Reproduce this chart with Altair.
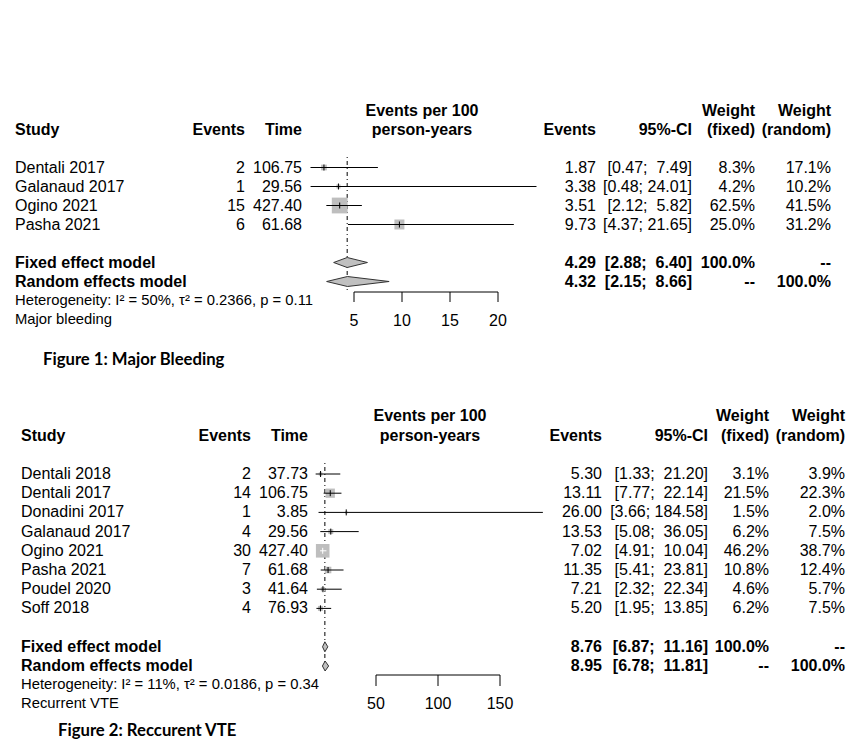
import math
import altair as alt
import pandas as pd

# ---------------- Figure 1: Major bleeding ----------------
f1_study = ["Dentali 2017", "Galanaud 2017", "Ogino 2021", "Pasha 2021"]
f1_events = [2, 1, 15, 6]
f1_time = [106.75, 29.56, 427.40, 61.68]
f1_rate = [1.87, 3.38, 3.51, 9.73]
f1_lower = [0.47, 0.48, 2.12, 4.37]
f1_upper = [7.49, 24.01, 5.82, 21.65]
f1_wfixed = [8.3, 4.2, 62.5, 25.0]
f1_wrandom = [17.1, 10.2, 41.5, 31.2]
f1_fixed = [4.29, 2.88, 6.40]
f1_random = [4.32, 2.15, 8.66]
f1_het = "Heterogeneity: I² = 50%, τ² = 0.2366, p = 0.11"
f1_label = "Major bleeding"
f1_ticks = [5, 10, 15, 20]
f1_caption = "Figure 1: Major Bleeding"

# ---------------- Figure 2: Recurrent VTE ----------------
f2_study = ["Dentali 2018", "Dentali 2017", "Donadini 2017", "Galanaud 2017",
            "Ogino 2021", "Pasha 2021", "Poudel 2020", "Soff 2018"]
f2_events = [2, 14, 1, 4, 30, 7, 3, 4]
f2_time = [37.73, 106.75, 3.85, 29.56, 427.40, 61.68, 41.64, 76.93]
f2_rate = [5.30, 13.11, 26.00, 13.53, 7.02, 11.35, 7.21, 5.20]
f2_lower = [1.33, 7.77, 3.66, 5.08, 4.91, 5.41, 2.32, 1.95]
f2_upper = [21.20, 22.14, 184.58, 36.05, 10.04, 23.81, 22.34, 13.85]
f2_wfixed = [3.1, 21.5, 1.5, 6.2, 46.2, 10.8, 4.6, 6.2]
f2_wrandom = [3.9, 22.3, 2.0, 7.5, 38.7, 12.4, 5.7, 7.5]
f2_fixed = [8.76, 6.87, 11.16]
f2_random = [8.95, 6.78, 11.81]
f2_het = "Heterogeneity: I² = 11%, τ² = 0.0186, p = 0.34"
f2_label = "Recurrent VTE"
f2_ticks = [50, 100, 150]
f2_caption = "Figure 2: Reccurent VTE"

# ---------------- layout (page pixel coordinates) ----------------
PAGE_X = 8
W = 840
FONT = "Liberation Sans"
NB = "\u00a0"

L1 = dict(top=8, height=370, base=167.5, step=19, zero=306, ppu=9.6, sq=4.0,
          study=15, ev=245, time=302, smlab=422, est=596, ci=692, wf=755, wr=831, cap=43,
          ref=(157, 290), axis=292, tickend=302, tlab=321, cap_y=360)
L2 = dict(top=378, height=366, base=474, step=19.2, zero=314, ppu=1.24, sq=6.25,
          study=21, ev=251, time=308, smlab=430, est=602, ci=708, wf=769, wr=845, cap=58,
          ref=(463, 672), axis=675, tickend=686, tlab=704, cap_y=731)


def panel(study, events, time, rate, lower, upper, wf, wr, fixed, rnd,
          het, label, ticks, caption, L):
    n = len(study)

    def r(py):
        return (py - L["base"]) / L["step"]

    def px(x):
        return x - PAGE_X

    yscale = alt.Scale(domain=[r(L["top"]), r(L["top"] + L["height"])],
                       reverse=True, nice=False, zero=False)
    xscale = alt.Scale(domain=[(PAGE_X - L["zero"]) / L["ppu"],
                               (PAGE_X + W - L["zero"]) / L["ppu"]],
                       nice=False, zero=False)
    Y = alt.Y("row:Q", scale=yscale, axis=None)

    all_lo = list(lower) + [fixed[1], rnd[1]]
    all_hi = list(upper) + [fixed[2], rnd[2]]
    wl = max(len(f"{v:.2f}") for v in all_lo)
    wu = max(len(f"{v:.2f}") for v in all_hi)

    def ci(lo, hi):
        return "[" + f"{lo:.2f}".rjust(wl, NB) + ";" + NB + f"{hi:.2f}".rjust(wu, NB) + "]"

    sdf = pd.DataFrame(dict(
        row=list(range(n)), study=study,
        events=[str(e) for e in events], time=[f"{t:.2f}" for t in time],
        est=rate, lo=lower, hi=upper, wf=wf,
        est_s=[f"{v:.2f}" for v in rate],
        ci_s=[ci(a, b) for a, b in zip(lower, upper)],
        wf_s=[f"{v:.1f}%" for v in wf], wr_s=[f"{v:.1f}%" for v in wr],
    ))
    sdf["lc"] = ["white" if (b - a) * L["ppu"] < math.sqrt(L["sq"] * w) else "black"
                 for a, b, w in zip(lower, upper, wf)]

    mdf = pd.DataFrame(dict(
        row=[n + 1, n + 2], label=["Fixed effect model", "Random effects model"],
        est_s=[f"{fixed[0]:.2f}", f"{rnd[0]:.2f}"],
        ci_s=[ci(fixed[1], fixed[2]), ci(rnd[1], rnd[2])],
        wf_s=["100.0%", "--"], wr_s=["--", "100.0%"],
    ))

    h = 5.0 / L["step"]
    drows = []
    for name, (e, lo, hi), rr in [("fixed", fixed, n + 1), ("random", rnd, n + 2)]:
        drows += [dict(model=name, x=lo, y1=rr, y2=rr),
                  dict(model=name, x=e, y1=rr - h, y2=rr + h),
                  dict(model=name, x=hi, y1=rr, y2=rr)]
    ddf = pd.DataFrame(drows)

    foot = pd.DataFrame(dict(row=[n + 3, n + 4], text=[het, label]))
    hdr = pd.DataFrame(dict(row=[-3, -2], a=["Events per 100", "person-years"]))

    def txt(df, field, x, align="left", bold=False, size=16, font=FONT, color="black"):
        return alt.Chart(df).mark_text(
            align=align, baseline="middle", x=px(x), font=font, fontSize=size,
            fontWeight="bold" if bold else "normal", color=color
        ).encode(y=Y, text=f"{field}:N")

    def hd(text, row, x, align):
        return txt(pd.DataFrame(dict(row=[row], t=[text])), "t", x, align, bold=True)

    layers = []
    # headers
    layers += [
        hd("Study", -2, L["study"], "left"),
        hd("Events", -2, L["ev"], "right"),
        hd("Time", -2, L["time"], "right"),
        txt(hdr, "a", L["smlab"], "center", bold=True),
        hd("Events", -2, L["est"], "right"),
        hd("95%-CI", -2, L["ci"], "right"),
        hd("Weight", -3, L["wf"], "right"),
        hd("(fixed)", -2, L["wf"], "right"),
        hd("Weight", -3, L["wr"], "right"),
        hd("(random)", -2, L["wr"], "right"),
    ]
    # study rows
    layers += [
        txt(sdf, "study", L["study"]),
        txt(sdf, "events", L["ev"], "right"),
        txt(sdf, "time", L["time"], "right"),
        txt(sdf, "est_s", L["est"], "right"),
        txt(sdf, "ci_s", L["ci"], "right"),
        txt(sdf, "wf_s", L["wf"], "right"),
        txt(sdf, "wr_s", L["wr"], "right"),
    ]
    # summary rows
    layers += [
        txt(mdf, "label", L["study"], bold=True),
        txt(mdf, "est_s", L["est"], "right", bold=True),
        txt(mdf, "ci_s", L["ci"], "right", bold=True),
        txt(mdf, "wf_s", L["wf"], "right", bold=True),
        txt(mdf, "wr_s", L["wr"], "right", bold=True),
    ]
    layers.append(txt(foot, "text", L["study"], size=14.8))
    layers.append(txt(pd.DataFrame(dict(row=[r(L["cap_y"])], t=[caption])), "t",
                      L["cap"], bold=True, size=16.7, font="Lato"))

    X = lambda f: alt.X(f"{f}:Q", scale=xscale, axis=None)

    # reference line (fixed effect estimate)
    refdf = pd.DataFrame(dict(x=[fixed[0]], row=[r(L["ref"][0])], row2=[r(L["ref"][1])]))
    layers.append(alt.Chart(refdf).mark_rule(color="black", strokeWidth=1, strokeDash=[1, 3, 4, 3])
                  .encode(x=X("x"), y=Y, y2="row2:Q"))
    # squares
    layers.append(alt.Chart(sdf).mark_square(filled=True, color="#bebebe", opacity=1)
                  .encode(x=X("est"), y=Y,
                          size=alt.Size("wf:Q", scale=alt.Scale(domain=[0, 100], range=[0, 100 * L["sq"]]),
                                        legend=None)))
    # CI lines
    layers.append(alt.Chart(sdf).mark_rule(strokeWidth=1)
                  .encode(x=X("lo"), x2="hi:Q", y=Y, color=alt.Color("lc:N", scale=None)))
    # point estimate ticks
    layers.append(alt.Chart(sdf).mark_point(shape="M0,-1L0,1", size=36, filled=False,
                                            strokeWidth=1, opacity=1)
                  .encode(x=X("est"), y=Y, color=alt.Color("lc:N", scale=None)))
    # diamonds
    layers.append(alt.Chart(ddf).mark_area(color="#c0c0c0", stroke="#333333", strokeWidth=1,
                                           orient="vertical", opacity=1)
                  .encode(x=X("x"), y=alt.Y("y1:Q", scale=yscale, axis=None), y2="y2:Q",
                          detail="model:N"))
    # axis
    adf = pd.DataFrame(dict(x=[min(ticks)], x2=[max(ticks)], row=[r(L["axis"])]))
    layers.append(alt.Chart(adf).mark_rule(color="black", strokeWidth=1)
                  .encode(x=X("x"), x2="x2:Q", y=Y))
    tdf = pd.DataFrame(dict(x=ticks, row=[r(L["axis"])] * len(ticks),
                            row2=[r(L["tickend"])] * len(ticks),
                            lab=[str(t) for t in ticks],
                            lrow=[r(L["tlab"])] * len(ticks)))
    layers.append(alt.Chart(tdf).mark_rule(color="black", strokeWidth=1)
                  .encode(x=X("x"), y=Y, y2="row2:Q"))
    layers.append(alt.Chart(tdf).mark_text(align="center", baseline="middle", font=FONT,
                                           fontSize=16, color="black")
                  .encode(x=X("x"), y=alt.Y("lrow:Q", scale=yscale, axis=None), text="lab:N"))

    return alt.layer(*layers).properties(width=W, height=L["height"])


p1 = panel(f1_study, f1_events, f1_time, f1_rate, f1_lower, f1_upper, f1_wfixed, f1_wrandom,
           f1_fixed, f1_random, f1_het, f1_label, f1_ticks, f1_caption, L1)
p2 = panel(f2_study, f2_events, f2_time, f2_rate, f2_lower, f2_upper, f2_wfixed, f2_wrandom,
           f2_fixed, f2_random, f2_het, f2_label, f2_ticks, f2_caption, L2)

chart = (alt.vconcat(p1, p2, spacing=0, bounds="flush")
         .properties(padding=0, background="white")
         .configure_view(stroke=None))

chart.save("out.html", embed_options={"renderer": "svg", "actions": False})
